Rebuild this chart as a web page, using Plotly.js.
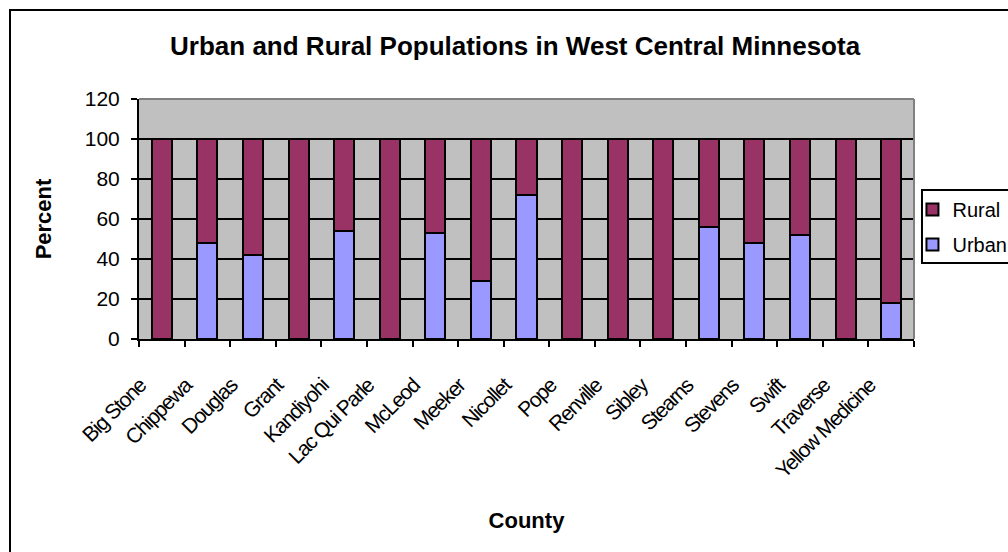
<!DOCTYPE html>
<html>
<head>
<meta charset="utf-8">
<script src="https://cdn.plot.ly/plotly-3.0.1.min.js"></script>
<style>
  html, body { margin: 0; padding: 0; background: #fff; }
  #wrap { position: relative; width: 1008px; height: 552px; overflow: hidden; }
  #chart { position: absolute; left: 0; top: 0; width: 1008px; height: 552px; }
  #frame { position: absolute; left: 9px; top: 9px; width: 1100px; height: 600px;
           border-left: 2px solid #000; border-top: 2px solid #000; pointer-events: none; }
  /* narrow, tightly set county names */
  #chart .xtick text { letter-spacing: -1.3px; }
</style>
</head>
<body>
<div id="wrap">
  <div id="chart"></div>
  <div id="frame"></div>
</div>
<script>
// Counties of West Central Minnesota
const counties = ["Big Stone", "Chippewa", "Douglas", "Grant", "Kandiyohi", "Lac Qui Parle",
  "McLeod", "Meeker", "Nicollet", "Pope", "Renville", "Sibley", "Stearns", "Stevens",
  "Swift", "Traverse", "Yellow Medicine"];

// Share of population living in urban areas (percent)
const urban = [0, 48, 42, 0, 54, 0, 53, 29, 72, 0, 0, 0, 56, 48, 52, 0, 18];

// Share of population living in rural areas (percent)
const rural = [100, 52, 58, 100, 46, 100, 47, 71, 28, 100, 100, 100, 44, 52, 48, 100, 82];

const yTicks = [0, 20, 40, 60, 80, 100, 120];

const font = "Arial, 'Liberation Sans', sans-serif";

const traces = [
  {
    type: "bar", name: "Urban", x: counties, y: urban,
    legendgroup: "u", legendrank: 2,
    marker: { color: "#9999ff", line: { color: "#000", width: 2 } },
    hoverinfo: "x+y+name"
  },
  {
    type: "bar", name: "Rural", x: counties, y: rural,
    legendgroup: "r", legendrank: 1,
    marker: { color: "#993366", line: { color: "#000", width: 2 } },
    hoverinfo: "x+y+name"
  }
];

const layout = {
  width: 1008, height: 552,
  margin: { l: 139, r: 94, t: 99, b: 213, autoexpand: false },
  paper_bgcolor: "#fff",
  plot_bgcolor: "#c0c0c0",
  barmode: "stack",
  bargap: 0.56,
  font: { family: font, color: "#000", size: 21 },
  title: {
    text: "<b>Urban and Rural Populations in West Central Minnesota</b>",
    font: { family: font, size: 26, color: "#000" },
    x: 0.511, xref: "container", xanchor: "center",
    y: 0.917, yref: "container", yanchor: "middle"
  },
  xaxis: {
    type: "category",
    tickson: "boundaries",
    ticks: "outside", ticklen: 6, tickwidth: 2, tickcolor: "#000",
    showline: true, linecolor: "#000", linewidth: 2,
    showgrid: false,
    tickangle: -45,
    ticklabelshift: -22,
    ticklabelstandoff: 24,
    tickfont: { family: font, size: 21, color: "#000" },
    title: { text: "<b>County</b>", font: { family: font, size: 22, color: "#000" }, standoff: 18 }
  },
  yaxis: {
    range: [0, 120],
    tickvals: yTicks,
    ticktext: yTicks.map(String),
    ticks: "outside", ticklen: 6, tickwidth: 2, tickcolor: "#000",
    ticklabelstandoff: 7,
    showline: true, linecolor: "#000", linewidth: 2,
    showgrid: true, gridcolor: "#000", gridwidth: 1.5,
    zeroline: false,
    tickfont: { family: font, size: 21, color: "#000" },
    title: { text: "<b>Percent</b>", font: { family: font, size: 22, color: "#000" }, standoff: 27 }
  },
  legend: {
    x: 0.998, xanchor: "left",
    y: 0.621, yanchor: "top",
    traceorder: "grouped",
    tracegroupgap: 6,
    bgcolor: "rgba(0,0,0,0)",
    borderwidth: 0,
    font: { family: font, size: 20, color: "#000" },
    itemwidth: 30
  },
  shapes: [
    // grey edge along the top and right of the plot area
    { type: "line", xref: "paper", yref: "paper", x0: 0, x1: 1, y0: 1, y1: 1,
      line: { color: "#808080", width: 2 } },
    { type: "line", xref: "paper", yref: "paper", x0: 1, x1: 1, y0: 0, y1: 1,
      line: { color: "#808080", width: 2 } },
    // legend box
    { type: "rect", xref: "paper", yref: "paper", x0: 1.0103, x1: 1.2, y0: 0.317, y1: 0.621,
      fillcolor: "#fff", line: { color: "#000", width: 2 } }
  ],
  showlegend: true
};

Plotly.newPlot("chart", traces, layout, { displayModeBar: false, staticPlot: true });
</script>
</body>
</html>
